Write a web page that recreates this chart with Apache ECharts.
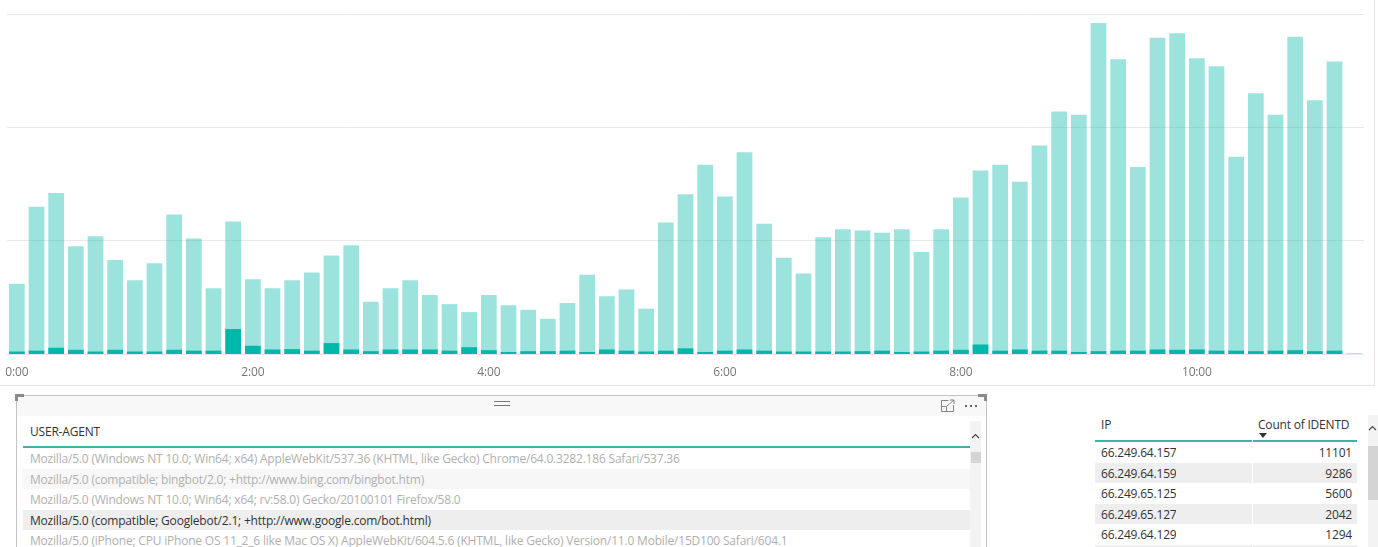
<!DOCTYPE html>
<html>
<head>
<meta charset="utf-8">
<script src="https://cdn.jsdelivr.net/npm/echarts@6/dist/echarts.min.js"></script>
<style>
  html, body { margin: 0; padding: 0; background: #fff; }
  body { width: 1378px; height: 547px; position: relative; overflow: hidden;
         font-family: "Segoe UI", "Open Sans", sans-serif; font-size: 12px; color: #333;
         letter-spacing: -0.2px; }
  #chart { position: absolute; left: 0; top: 0; width: 1374px; height: 385px;
           border-right: 1px solid #e4e4e4; border-bottom: 1px solid #e4e4e4; }
  .abs { position: absolute; }
  #uaBox { left: 16px; top: 395px; width: 969px; height: 170px; border: 1px solid #c4c4c4; }
  #uaHead { left: 0; top: 0; width: 969px; height: 20px; background: #f8f8f8; }
  .corner { background: #8a8a8a; }
  .row { position: absolute; height: 21px; line-height: 21px; white-space: nowrap; overflow: hidden; }
  .sb { background: #f3f3f3; }
  .thumb { background: #d4d4d4; }
</style>
</head>
<body>
<div id="chart"></div>

<div id="uaBox" class="abs">
  <div id="uaHead" class="abs"></div>
  <!-- grip -->
  <div class="abs" style="left:477px;top:5px;width:16px;height:1px;background:#777"></div>
  <div class="abs" style="left:477px;top:9px;width:16px;height:1px;background:#777"></div>
  <!-- focus icon -->
  <svg class="abs" style="left:923px;top:3px" width="16" height="14" viewBox="0 0 16 14">
    <path d="M8.5 1.5 H1.5 V12.5 H13.5 V6" fill="none" stroke="#888" stroke-width="1"/>
    <path d="M1.5 7.5 H6.5 V12.5" fill="none" stroke="#888" stroke-width="1"/>
    <path d="M7 7 L14 1 M10 1 H14 V5" fill="none" stroke="#888" stroke-width="1"/>
  </svg>
  <!-- more dots -->
  <div class="abs" style="left:948px;top:9px;width:2px;height:2px;background:#666"></div>
  <div class="abs" style="left:953px;top:9px;width:2px;height:2px;background:#666"></div>
  <div class="abs" style="left:958px;top:9px;width:2px;height:2px;background:#666"></div>
  <!-- scrollbar -->
  <div class="abs sb" style="left:953px;top:25px;width:11px;height:150px"></div>
  <svg class="abs" style="left:954px;top:37px" width="9" height="6" viewBox="0 0 9 6">
    <path d="M1 5 L4.5 1.5 L8 5" fill="none" stroke="#444" stroke-width="1.1"/>
  </svg>
  <div class="abs thumb" style="left:954px;top:56px;width:10px;height:11px"></div>
</div>
<div class="abs corner" style="left:15px;top:394px;width:9px;height:3px"></div>
<div class="abs corner" style="left:15px;top:394px;width:3px;height:7px"></div>
<div class="abs corner" style="left:978px;top:394px;width:9px;height:3px"></div>
<div class="abs corner" style="left:984px;top:394px;width:3px;height:7px"></div>

<div id="uaTable"></div>
<div id="ipTable"></div>

<script>
// categories: 10-minute buckets
const times = [
  "0:00","0:10","0:20","0:30","0:40","0:50","1:00","1:10","1:20","1:30","1:40","1:50",
  "2:00","2:10","2:20","2:30","2:40","2:50","3:00","3:10","3:20","3:30","3:40","3:50",
  "4:00","4:10","4:20","4:30","4:40","4:50","5:00","5:10","5:20","5:30","5:40","5:50",
  "6:00","6:10","6:20","6:30","6:40","6:50","7:00","7:10","7:20","7:30","7:40","7:50",
  "8:00","8:10","8:20","8:30","8:40","8:50","9:00","9:10","9:20","9:30","9:40","9:50",
  "10:00","10:10","10:20","10:30","10:40","10:50","11:00","11:10","11:20"
];

// full count per bucket (faded bars)
const totalCounts = [
  62,130,142,95,104,83,65,80,123,102,58,117,66,58,65,72,87,96,46,58,65,52,44,
  37,52,43,39,31,45,70,51,57,40,116,141,167,139,178,115,85,71,103,110,109,107,110,
  90,110,138,162,167,152,184,214,211,292,260,165,279,283,261,254,174,230,211,280,224,258,0.7
];

// highlighted part (selected user agent)
const selectedCounts = [
  2.2,3,5.5,3.7,2.2,3.7,2.2,2.2,3.7,3,3,22,7.3,4,4.3,3,9.6,4,2.5,4,4,4,3,
  6,3.4,1.8,2.5,2.5,3,1.8,4,3,2.2,3,5,1.8,3,4,3,2.2,2.2,2.2,2.2,2.5,3,1.8,
  2.2,3,3.7,8.4,3,4,3,3,1.8,2.5,3,3,4,3.7,4,3,3,2.5,3,3.4,2.5,3,0
];

const userAgents = [
  "Mozilla/5.0 (Windows NT 10.0; Win64; x64) AppleWebKit/537.36 (KHTML, like Gecko) Chrome/64.0.3282.186 Safari/537.36",
  "Mozilla/5.0 (compatible; bingbot/2.0; +http://www.bing.com/bingbot.htm)",
  "Mozilla/5.0 (Windows NT 10.0; Win64; x64; rv:58.0) Gecko/20100101 Firefox/58.0",
  "Mozilla/5.0 (compatible; Googlebot/2.1; +http://www.google.com/bot.html)",
  "Mozilla/5.0 (iPhone; CPU iPhone OS 11_2_6 like Mac OS X) AppleWebKit/604.5.6 (KHTML, like Gecko) Version/11.0 Mobile/15D100 Safari/604.1"
];
const selectedAgent = 3;

const ips = ["66.249.64.157","66.249.64.159","66.249.65.125","66.249.65.127","66.249.64.129"];
const identdCounts = [11101, 9286, 5600, 2042, 1294];

// ---- bar chart ----
const chart = echarts.init(document.getElementById("chart"));
chart.setOption({
  animation: false,
  grid: { left: 7, right: 10, top: 14, bottom: 31 },
  xAxis: {
    type: "category",
    data: times,
    axisLine: { show: false },
    axisTick: { show: false },
    axisLabel: {
      interval: 11, margin: 13, color: "#777",
      fontFamily: "Segoe UI, Open Sans, sans-serif", fontSize: 12
    }
  },
  yAxis: {
    type: "value", min: 0, max: 300, interval: 100,
    axisLabel: { show: false },
    axisLine: { show: false },
    axisTick: { show: false },
    splitLine: { lineStyle: { color: "#e8e8e8", width: 1 } }
  },
  series: [
    {
      type: "bar", data: totalCounts, barCategoryGap: "20%",
      itemStyle: { color: "rgba(1,184,170,0.39)" }
    },
    {
      type: "bar", data: selectedCounts, barGap: "-100%",
      itemStyle: { color: "#01B8AA" }
    }
  ]
});

// ---- user agent table ----
let html = "";
html += '<div class="row" style="left:30px;top:421px;color:#333">USER-AGENT</div>';
html += '<div class="abs" style="left:23px;top:446px;width:947px;height:2px;background:#3fb1a6"></div>';
userAgents.forEach((ua, i) => {
  const top = 448 + Math.round(i * 20.6);
  let bg = i % 2 === 1 ? "#f7f7f7" : "#fff";
  if (i === selectedAgent) bg = "#eeeeee";
  const col = i === selectedAgent ? "#333" : "#b0b0b0";
  html += '<div class="row" style="left:23px;top:' + top + 'px;width:947px;background:' + bg +
          ';color:' + col + ';padding-left:7px;box-sizing:border-box">' + ua + '</div>';
});
document.getElementById("uaTable").innerHTML = html;

// ---- IP table ----
let h2 = "";
h2 += '<div class="row" style="left:1101px;top:414px">IP</div>';
h2 += '<div class="row" style="left:1258px;top:414px">Count of IDENTD</div>';
h2 += '<div class="abs" style="left:1259px;top:433px;width:0;height:0;border-left:4px solid transparent;border-right:4px solid transparent;border-top:5px solid #333"></div>';
h2 += '<div class="abs" style="left:1095px;top:440px;width:157px;height:2px;background:#3fb1a6"></div>';
h2 += '<div class="abs" style="left:1253px;top:440px;width:104px;height:2px;background:#3fb1a6"></div>';
ips.concat([""]).forEach((ip, i) => {
  const top = 442 + Math.round(i * 20.6);
  const bg = i % 2 === 1 ? "#eeeeee" : "#fff";
  h2 += '<div class="abs" style="left:1095px;top:' + top + 'px;width:157px;height:21px;background:' + bg + '"></div>';
  h2 += '<div class="abs" style="left:1253px;top:' + top + 'px;width:104px;height:21px;background:' + bg + '"></div>';
  if (ip) {
    h2 += '<div class="row" style="left:1101px;top:' + top + 'px">' + ip + '</div>';
    h2 += '<div class="row" style="left:1253px;top:' + top + 'px;width:99px;text-align:right">' + identdCounts[i] + '</div>';
  }
});
h2 += '<div class="abs sb" style="left:1368px;top:415px;width:10px;height:140px"></div>';
h2 += '<svg class="abs" style="left:1368px;top:425px" width="9" height="6" viewBox="0 0 9 6"><path d="M1 5 L4.5 1.5 L8 5" fill="none" stroke="#444" stroke-width="1.1"/></svg>';
h2 += '<div class="abs thumb" style="left:1368px;top:446px;width:10px;height:54px"></div>';
document.getElementById("ipTable").innerHTML = h2;

window.addEventListener("resize", () => chart.resize());
</script>
</body>
</html>
